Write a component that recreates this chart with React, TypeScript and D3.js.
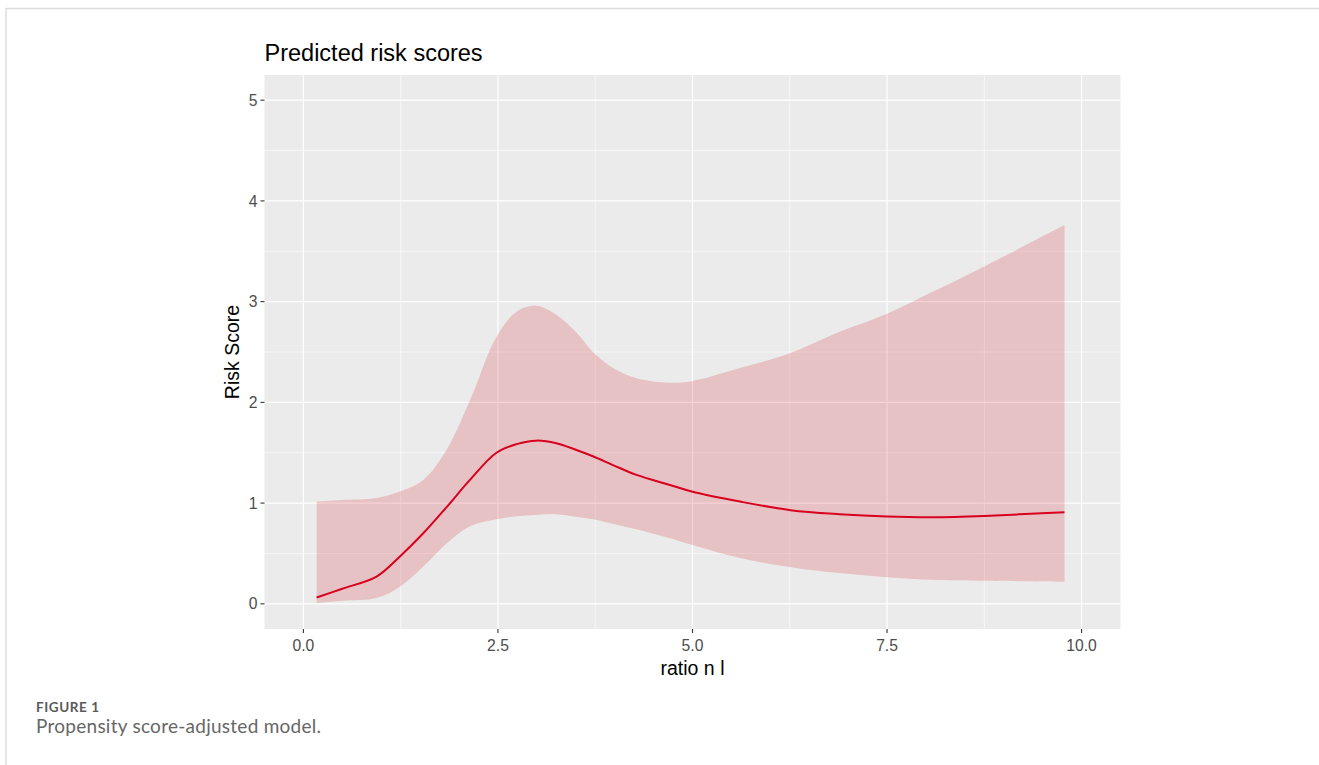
import React from "react";
import * as d3 from "d3";

const ratioX = [0.17, 0.5, 0.94, 1.24, 1.54, 1.84, 2.14, 2.48, 2.74, 2.99, 3.25, 3.5, 3.72, 4.0, 4.28, 4.71, 4.99, 5.61, 6.26, 6.89, 7.5, 8.09, 8.75, 9.78];
const riskFit = [0.063, 0.15, 0.27, 0.47, 0.7, 0.96, 1.23, 1.5, 1.585, 1.62, 1.595, 1.53, 1.465, 1.37, 1.28, 1.18, 1.115, 1.015, 0.93, 0.89, 0.867, 0.86, 0.873, 0.91];
const riskLower = [0.007, 0.03, 0.057, 0.17, 0.37, 0.6, 0.77, 0.84, 0.87, 0.883, 0.89, 0.865, 0.84, 0.79, 0.74, 0.65, 0.586, 0.454, 0.364, 0.305, 0.265, 0.238, 0.228, 0.22];
const riskUpper = [1.015, 1.03, 1.05, 1.115, 1.23, 1.53, 2.02, 2.65, 2.9, 2.96, 2.87, 2.7, 2.5, 2.33, 2.24, 2.195, 2.21, 2.34, 2.49, 2.7, 2.88, 3.1, 3.35, 3.76];

const xTicks = [0, 2.5, 5, 7.5, 10];
const xMinor = [1.25, 3.75, 6.25, 8.75];
const yTicks = [0, 1, 2, 3, 4, 5];
const yMinor = [0.5, 1.5, 2.5, 3.5, 4.5];

const title = "Predicted risk scores";
const xTitle = "ratio n l";
const yTitle = "Risk Score";
const figLabel = "FIGURE 1";
const caption = "Propensity score-adjusted model.";

const W = 1319;
const H = 765;
const panel = { left: 264.5, right: 1120.5, top: 75, bottom: 629 };

export default function App() {
  const x = d3.scaleLinear().domain([-0.5, 10.5]).range([panel.left, panel.right]);
  const y = d3.scaleLinear().domain([-0.25, 5.25]).range([panel.bottom, panel.top]);
  const data = ratioX.map((v, i) => ({ x: v, f: riskFit[i], lo: riskLower[i], hi: riskUpper[i] }));
  const area = d3
    .area<any>()
    .x((d) => x(d.x))
    .y0((d) => y(d.lo))
    .y1((d) => y(d.hi))
    .curve(d3.curveCatmullRom.alpha(0.5));
  const line = d3
    .line<any>()
    .x((d) => x(d.x))
    .y((d) => y(d.f))
    .curve(d3.curveCatmullRom.alpha(0.5));
  const font = "'Liberation Sans', Arial, sans-serif";
  return (
    <svg width={W} height={H} style={{ position: "absolute", left: 0, top: 0, background: "#fff" }}>
      <line x1={6} y1={8.5} x2={W} y2={8.5} stroke="#dcdcdc" strokeWidth={1.5} />
      <line x1={6} y1={8} x2={6} y2={H} stroke="#dcdcdc" strokeWidth={1.5} />
      <rect x={panel.left} y={panel.top} width={panel.right - panel.left} height={panel.bottom - panel.top} fill="#EBEBEB" />
      {yMinor.map((t) => (
        <line key={"ym" + t} x1={panel.left} x2={panel.right} y1={y(t)} y2={y(t)} stroke="#fff" strokeWidth={0.6} />
      ))}
      {xMinor.map((t) => (
        <line key={"xm" + t} y1={panel.top} y2={panel.bottom} x1={x(t)} x2={x(t)} stroke="#fff" strokeWidth={0.6} />
      ))}
      {yTicks.map((t) => (
        <line key={"yg" + t} x1={panel.left} x2={panel.right} y1={y(t)} y2={y(t)} stroke="#fff" strokeWidth={1.2} />
      ))}
      {xTicks.map((t) => (
        <line key={"xg" + t} y1={panel.top} y2={panel.bottom} x1={x(t)} x2={x(t)} stroke="#fff" strokeWidth={1.2} />
      ))}
      <path d={area(data) || ""} fill="rgb(215,30,40)" fillOpacity={0.2} />
      <path d={line(data) || ""} fill="none" stroke="#d7001e" strokeWidth={2} />
      {yTicks.map((t) => (
        <g key={"yt" + t}>
          <line x1={panel.left - 4} x2={panel.left} y1={y(t)} y2={y(t)} stroke="#333" strokeWidth={1.1} />
          <text x={panel.left - 7} y={y(t)} dy="0.36em" textAnchor="end" fontFamily={font} fontSize={15.7} fill="#4D4D4D">
            {d3.format("d")(t)}
          </text>
        </g>
      ))}
      {xTicks.map((t) => (
        <g key={"xt" + t}>
          <line x1={x(t)} x2={x(t)} y1={panel.bottom} y2={panel.bottom + 4} stroke="#333" strokeWidth={1.1} />
          <text x={x(t)} y={651.3} textAnchor="middle" fontFamily={font} fontSize={15.7} fill="#4D4D4D">
            {d3.format(".1f")(t)}
          </text>
        </g>
      ))}
      <text x={(panel.left + panel.right) / 2} y={675} textAnchor="middle" fontFamily={font} fontSize={19.5} fill="#000">
        {xTitle}
      </text>
      <text
        transform={`translate(238.5, ${(panel.top + panel.bottom) / 2}) rotate(-90)`}
        textAnchor="middle"
        fontFamily={font}
        fontSize={19.5}
        fill="#000"
      >
        {yTitle}
      </text>
      <text x={panel.left} y={60.7} fontFamily={font} fontSize={23.5} fill="#000">
        {title}
      </text>
      <text x={36} y={711.5} fontFamily="Lato, 'Open Sans', sans-serif" fontWeight={700} fontSize={13.5} fill="#5a5a5a" textLength={63} lengthAdjust="spacing">
        {figLabel}
      </text>
      <text x={36} y={733} fontFamily="Lato, 'Open Sans', sans-serif" fontSize={19} fill="#666" textLength={285} lengthAdjust="spacing">
        {caption}
      </text>
    </svg>
  );
}
